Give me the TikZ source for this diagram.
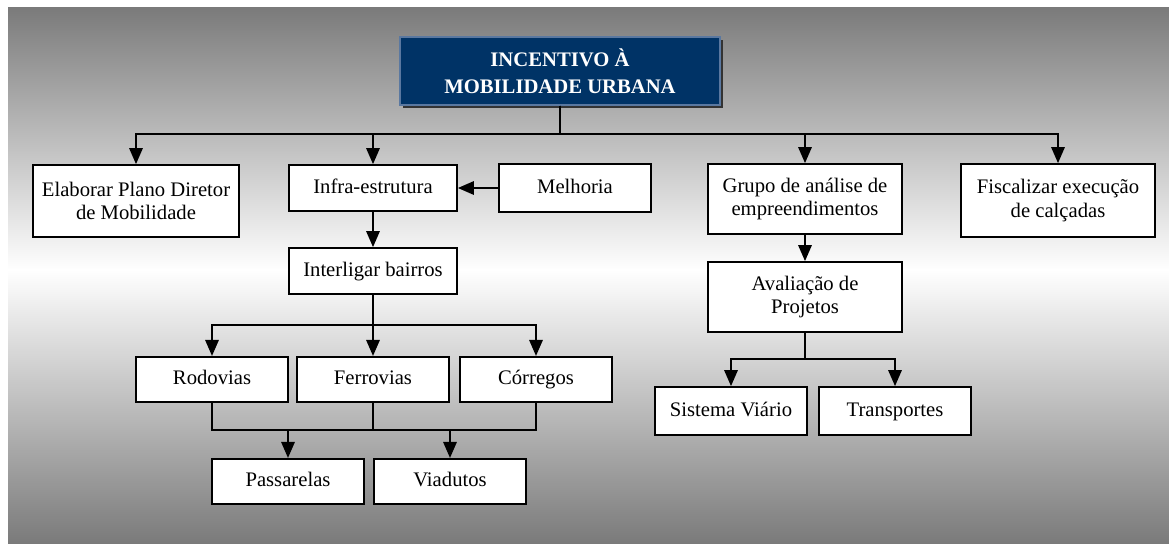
\documentclass[tikz,border=0pt]{standalone}
\usepackage{fontspec}
\setmainfont{Liberation Serif}
\usetikzlibrary{arrows.meta,shadows,calc}

\definecolor{azulmob}{RGB}{0,51,102}
\definecolor{bordamob}{RGB}{90,120,160}

\tikzset{
  caixa/.style={draw=black, fill=white, line width=1.3pt, align=center,
    inner sep=0pt, font=\fontsize{15.5}{17.5}\selectfont},
  unica/.style={text height=11pt, text depth=3.5pt},
  seta/.style={line width=1.5pt, -{Triangle[length=12pt,width=10pt]}},
  linha/.style={line width=1.5pt}
}

\begin{document}
\begin{tikzpicture}[x=0.75pt,y=-0.75pt]
% fundo
\useasboundingbox (0,0) rectangle (1169,543);
\fill[white] (0,0) rectangle (1169,543);
\shade[top color=black!52,bottom color=white] (8,7) rectangle (1169,270);
\shade[top color=white,bottom color=black!52] (8,269.5) rectangle (1169,543);

% titulo
\node[draw=bordamob,fill=azulmob,line width=1pt,text=white,align=center,
  font=\fontsize{15.5}{20}\selectfont\bfseries,minimum width=240pt,minimum height=51pt,
  drop shadow={shadow xshift=2pt,shadow yshift=-2pt,fill=black!80,opacity=1}]
  (titulo) at (560,71) {INCENTIVO À\\MOBILIDADE URBANA};

% primeiro nivel
\node[caixa,minimum width=155pt,minimum height=54pt] (plano) at (136,201) {Elaborar Plano Diretor\\de Mobilidade};
\node[caixa,unica,minimum width=126pt,minimum height=34.5pt] (infra) at (373,188) {Infra-estrutura};
\node[caixa,unica,minimum width=114pt,minimum height=36pt] (melhoria) at (575,188) {Melhoria};
\node[caixa,minimum width=146pt,minimum height=52.5pt] (grupo) at (805,199) {Grupo de análise de\\empreendimentos};
\node[caixa,minimum width=145pt,minimum height=54.75pt] (fiscal) at (1058,200.5) {Fiscalizar execução\\de calçadas};

% segundo nivel
\node[caixa,unica,minimum width=126pt,minimum height=34.5pt] (interligar) at (373,271) {Interligar bairros};
\node[caixa,minimum width=146pt,minimum height=52.5pt] (avaliacao) at (805,297) {Avaliação de\\Projetos};

\node[caixa,unica,minimum width=114pt,minimum height=34pt] (rodovias) at (212,379.5) {Rodovias};
\node[caixa,unica,minimum width=114pt,minimum height=34pt] (ferrovias) at (373,379.5) {Ferrovias};
\node[caixa,unica,minimum width=114pt,minimum height=34pt] (corregos) at (536,379.5) {Córregos};

\node[caixa,unica,minimum width=114pt,minimum height=34pt] (passarelas) at (288,481.5) {Passarelas};
\node[caixa,unica,minimum width=114pt,minimum height=34pt] (viadutos) at (450,481.5) {Viadutos};

\node[caixa,unica,minimum width=114pt,minimum height=36pt] (sistema) at (731,411) {Sistema Viário};
\node[caixa,unica,minimum width=114pt,minimum height=36pt] (transportes) at (895,411) {Transportes};

% barramentos
\coordinate (barra1) at (0,134);
\coordinate (barra2) at (0,325);
\coordinate (barra3) at (0,430);
\coordinate (barra4) at (0,359);

% conectores
\draw[seta] (titulo.south) -- (titulo.south |- barra1) -| (plano.north);
\draw[seta] (titulo.south) -- (titulo.south |- barra1) -| (infra.north);
\draw[seta] (titulo.south) -- (titulo.south |- barra1) -| (grupo.north);
\draw[seta] (titulo.south) -- (titulo.south |- barra1) -| (fiscal.north);
\draw[seta] (melhoria.west) -- (infra.east);
\draw[seta] (infra.south) -- (interligar.north);
\draw[seta] (grupo.south) -- (avaliacao.north);

\draw[seta] (interligar.south) -- (interligar.south |- barra2) -| (rodovias.north);
\draw[seta] (interligar.south) -- (ferrovias.north);
\draw[seta] (interligar.south) -- (interligar.south |- barra2) -| (corregos.north);

\draw[linha] (rodovias.south) -- (rodovias.south |- barra3) -- (corregos.south |- barra3) -- (corregos.south);
\draw[linha] (ferrovias.south) -- (ferrovias.south |- barra3);
\draw[seta] (passarelas.north |- barra3) -- (passarelas.north);
\draw[seta] (viadutos.north |- barra3) -- (viadutos.north);

\draw[seta] (avaliacao.south) -- (avaliacao.south |- barra4) -| (sistema.north);
\draw[seta] (avaliacao.south) -- (avaliacao.south |- barra4) -| (transportes.north);
\end{tikzpicture}
\end{document}
